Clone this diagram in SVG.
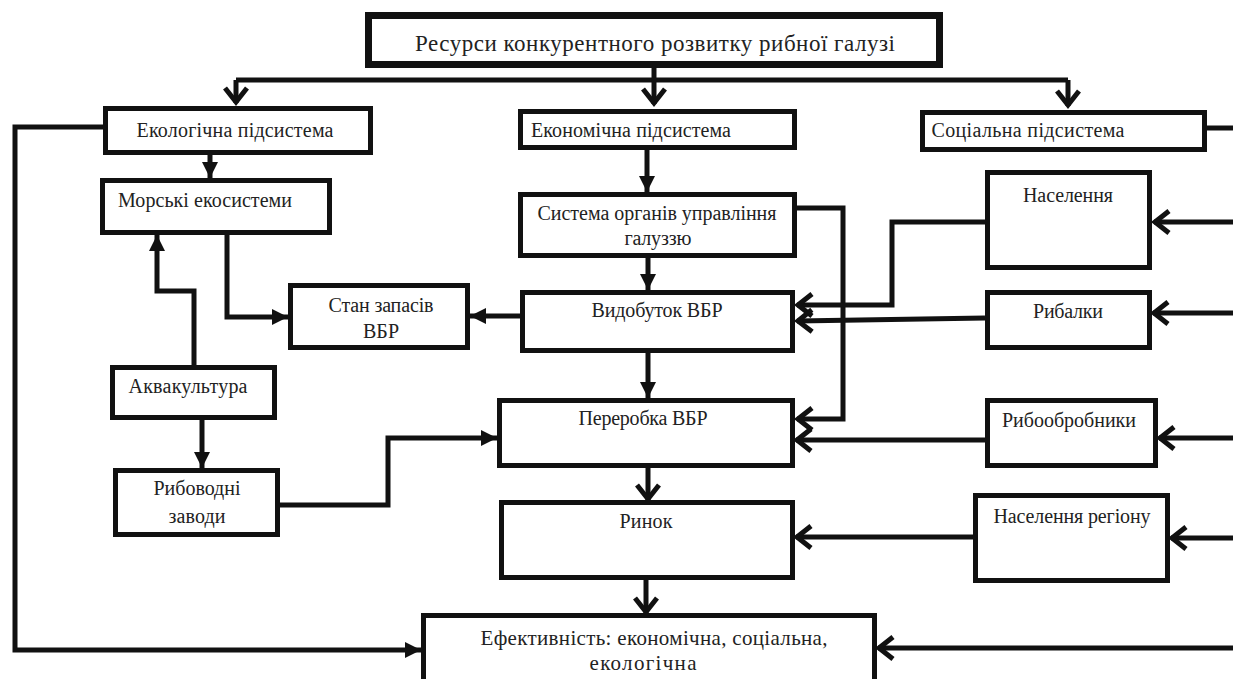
<svg xmlns="http://www.w3.org/2000/svg" width="1233" height="679" viewBox="0 0 1233 679">
<style>
  .box { fill: #fff; stroke: #111; stroke-width: 5; }
  .top { stroke-width: 7; }
  .lbl { font-family: "Liberation Serif", "Times New Roman", serif; font-size: 20px; fill: #222; text-anchor: middle; }
  .title { font-size: 23px; }
  .eff { font-size: 21px; }
  .con { fill: none; stroke: #111; stroke-width: 5; stroke-linejoin: miter; }
  .tri { marker-end: url(#tri); }
  .chev { marker-end: url(#chev); }
</style>
<defs>
  <marker id="tri" markerUnits="userSpaceOnUse" viewBox="0 0 17 18" markerWidth="17" markerHeight="18" refX="16" refY="9" orient="auto" overflow="visible">
    <path d="M0,1 L16,9 L0,17 z" fill="#111"/>
  </marker>
  <marker id="chev" markerUnits="userSpaceOnUse" viewBox="0 0 18 24" markerWidth="18" markerHeight="24" refX="16" refY="12" orient="auto" overflow="visible">
    <path d="M1,1 L15,12 L1,23" fill="none" stroke="#111" stroke-width="5" stroke-linejoin="miter"/>
  </marker>
</defs>

<g id="connectors">
  <path class="con" d="M236,80 H1068"/>
  <path class="con chev" d="M654,68 V104"/>
  <path class="con chev" d="M236,80 V103"/>
  <path class="con chev" d="M1068,80 V106"/>
  <path class="con" d="M1207,128 H1233"/>
  <path class="con tri" d="M210,155 V178"/>
  <path class="con tri" d="M103,127 H15 V650 H421"/>
  <path class="con tri" d="M647,150 V192"/>
  <path class="con tri" d="M648,258 V290"/>
  <path class="con chev" d="M797,208 H843 V419 H797"/>
  <path class="con chev" d="M985,222 H892 V305 H797"/>
  <path class="con chev" d="M985,318 L797,321"/>
  <path class="con chev" d="M1233,222 H1154"/>
  <path class="con chev" d="M1233,313 H1153"/>
  <path class="con tri" d="M520,316 H470"/>
  <path class="con tri" d="M227,235 V317 H288"/>
  <path class="con tri" d="M194,365 V291 H157 V235"/>
  <path class="con tri" d="M202,420 V468"/>
  <path class="con tri" d="M280,505 H388 V438 H497"/>
  <path class="con tri" d="M648,353 V398"/>
  <path class="con chev" d="M985,440 H796"/>
  <path class="con chev" d="M1233,438 H1159"/>
  <path class="con chev" d="M648,468 V500"/>
  <path class="con chev" d="M973,537 H796"/>
  <path class="con chev" d="M1233,538 H1171"/>
  <path class="con chev" d="M646,580 V613"/>
  <path class="con chev" d="M1233,648 H878"/>
</g>

<g id="n-resources">
  <rect class="box top" x="368.5" y="15.5" width="571" height="49"/>
  <text class="lbl title" x="655" y="51" textLength="480">Ресурси конкурентного розвитку рибної галузі</text>
</g>
<g id="n-ecol">
  <rect class="box" x="105.5" y="108.5" width="265" height="44"/>
  <text class="lbl" x="235" y="137" textLength="197">Екологічна підсистема</text>
</g>
<g id="n-econ">
  <rect class="box" x="520.5" y="111.5" width="274" height="36"/>
  <text class="lbl" x="631" y="137" textLength="200">Економічна підсистема</text>
</g>
<g id="n-soc">
  <rect class="box" x="922.5" y="112.5" width="282" height="37"/>
  <text class="lbl" x="1028" y="137" textLength="193">Соціальна підсистема</text>
</g>
<g id="n-marine">
  <rect class="box" x="102.5" y="180.5" width="227" height="52"/>
  <text class="lbl" x="205" y="207" textLength="174">Морські екосистеми</text>
</g>
<g id="n-mgmt">
  <rect class="box" x="520.5" y="194.5" width="274" height="61"/>
  <text class="lbl" x="657" y="220" textLength="239">Система органів управління</text>
  <text class="lbl" x="658" y="245" textLength="67">галуззю</text>
</g>
<g id="n-catch">
  <rect class="box" x="522.5" y="292.5" width="270" height="58"/>
  <text class="lbl" x="657" y="317" textLength="131">Видобуток ВБР</text>
</g>
<g id="n-stock">
  <rect class="box" x="290.5" y="285.5" width="177" height="62"/>
  <text class="lbl" x="381" y="312" textLength="105">Стан запасів</text>
  <text class="lbl" x="381" y="338" textLength="36">ВБР</text>
</g>
<g id="n-population">
  <rect class="box" x="987.5" y="172.5" width="162" height="95"/>
  <text class="lbl" x="1068" y="202" textLength="90">Населення</text>
</g>
<g id="n-fishers">
  <rect class="box" x="987.5" y="292.5" width="162" height="55"/>
  <text class="lbl" x="1068" y="318" textLength="70">Рибалки</text>
</g>
<g id="n-aqua">
  <rect class="box" x="112.5" y="367.5" width="162" height="50"/>
  <text class="lbl" x="188" y="393" textLength="119">Аквакультура</text>
</g>
<g id="n-hatch">
  <rect class="box" x="115.5" y="470.5" width="162" height="64"/>
  <text class="lbl" x="197" y="495" textLength="87">Рибоводні</text>
  <text class="lbl" x="197" y="523" textLength="57">заводи</text>
</g>
<g id="n-proc">
  <rect class="box" x="499.5" y="400.5" width="293" height="65"/>
  <text class="lbl" x="643" y="425" textLength="129">Переробка ВБР</text>
</g>
<g id="n-processors">
  <rect class="box" x="987.5" y="400.5" width="168" height="65"/>
  <text class="lbl" x="1069" y="427" textLength="134">Рибообробники</text>
</g>
<g id="n-market">
  <rect class="box" x="501.5" y="502.5" width="291" height="75"/>
  <text class="lbl" x="646" y="528" textLength="53">Ринок</text>
</g>
<g id="n-regpop">
  <rect class="box" x="975.5" y="495.5" width="192" height="85"/>
  <text class="lbl" x="1072" y="523" textLength="157">Населення регіону</text>
</g>
<g id="n-eff">
  <rect class="box" x="423.5" y="615.5" width="451" height="70"/>
  <text class="lbl eff" x="654" y="645" textLength="347">Ефективність: економічна, соціальна,</text>
  <text class="lbl eff" x="643" y="670" textLength="107">екологічна</text>
</g>
</svg>
